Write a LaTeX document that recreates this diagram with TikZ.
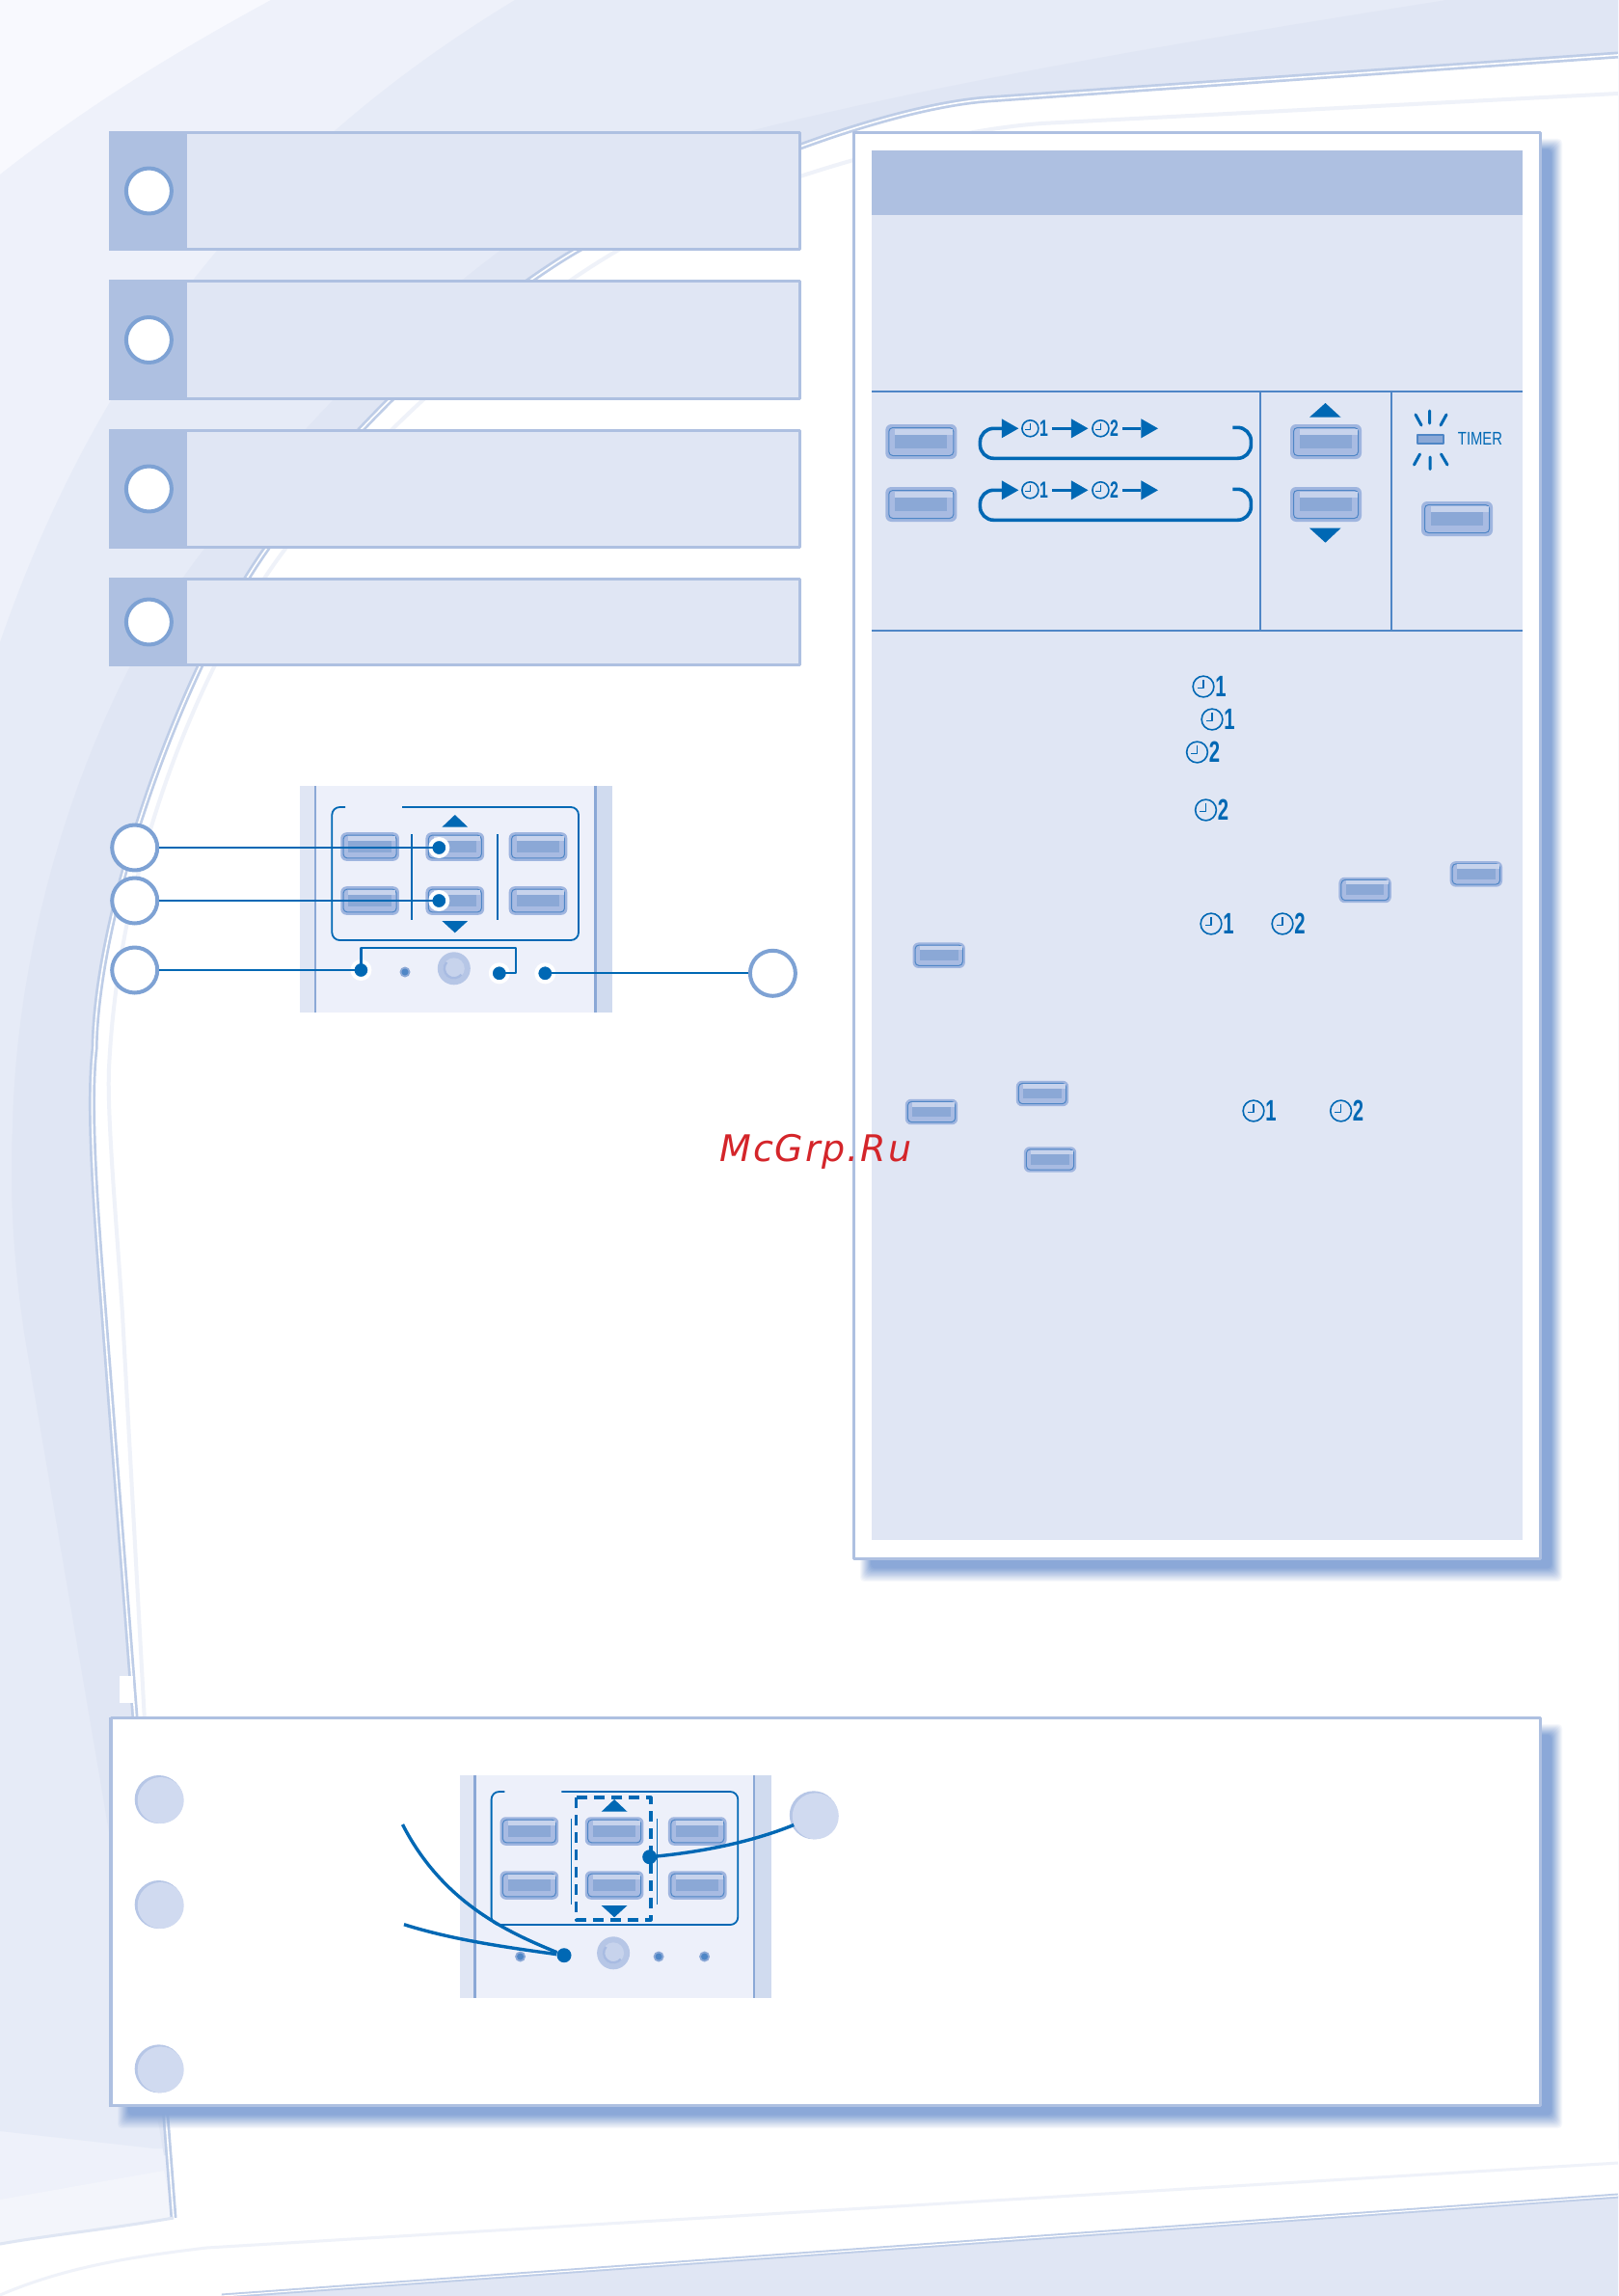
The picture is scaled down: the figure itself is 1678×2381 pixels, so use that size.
\documentclass[tikz,border=0pt]{standalone}
\usepackage{fontspec}
\setsansfont{Liberation Sans}
\newfontfamily\stampfont[LetterSpace=5]{DejaVu Sans}

\definecolor{inkblue}{HTML}{0068B4}
\definecolor{rulerblue}{HTML}{4F86C6}
\definecolor{boxedge}{HTML}{AEC0E1}
\definecolor{boxfill}{HTML}{E0E6F4}
\definecolor{ringblue}{HTML}{7EA2D4}
\definecolor{haloblue}{HTML}{9FB5DF}
\definecolor{midblue}{HTML}{A8BBE2}
\definecolor{lightblue}{HTML}{C7D3EC}
\definecolor{patchblue}{HTML}{8BA8D6}
\definecolor{shadowblue}{HTML}{8BA8D8}
\definecolor{badgefill}{HTML}{D0DAF0}
\definecolor{badgerim}{HTML}{B6C6E6}
\definecolor{faceblue}{HTML}{EDF0FA}
\definecolor{stripblue}{HTML}{D0DBEF}
\definecolor{washA}{HTML}{F8F9FE}
\definecolor{washB}{HTML}{EEF1FA}
\definecolor{washC}{HTML}{E6EBF7}
\definecolor{washD}{HTML}{E0E6F4}
\definecolor{washE}{HTML}{F3F5FB}
\definecolor{paleline}{HTML}{EFF2F9}
\definecolor{stampred}{HTML}{D4252A}

\newcommand{\sheetedge}{(1678,57) -- (1024,103)
    .. controls (930,110) and (760,168) .. (597,260)
    .. controls (475,332) and (330,480) .. (277,568)
    .. controls (190,690) and (100,940) .. (98,1088)
    .. controls (91,1150) and (100,1263) .. (107,1353)
    -- (180,2300)}

\newcommand{\softshadow}[4]{%
    \foreach \k [evaluate=\k as \shadealpha using 1/(12-\k)] in {0,...,11}
        \fill[shadowblue, opacity=\shadealpha, rounded corners=2pt]
            ({#1+8+\k},{#2+8+\k}) rectangle ({#3+21-\k},{#4+22-1.25*\k});
}

\begin{document}
\begin{tikzpicture}[
    x=.5pt,
    y=-.5pt,
    line join=round,
    boxline/.style={
        draw=boxedge,
        line width=1.5pt
    },
    ruler/.style={
        draw=rulerblue,
        line width=1pt
    },
    lead/.style={
        draw=inkblue,
        line width=1.1pt
    },
    bendlead/.style={
        draw=inkblue,
        line width=1.7pt
    },
    callout/.style={
        circle,
        draw=ringblue,
        fill=white,
        line width=2pt,
        minimum size=23.5pt,
        inner sep=0pt
    },
    badge/.style={
        circle,
        fill=badgefill,
        minimum size=24pt,
        inner sep=0pt
    },
    spot/.style={
        circle,
        fill=inkblue,
        draw=white,
        line width=2pt,
        minimum size=9pt,
        inner sep=0pt
    },
    plainspot/.style={
        circle,
        fill=inkblue,
        minimum size=7.5pt,
        inner sep=0pt
    },
    numeral/.style={
        text=inkblue,
        font=\sffamily\bfseries\fontsize{12}{12}\selectfont,
        transform shape,
        xscale=.66,
        inner sep=0pt
    },
    knob/.pic={
        \fill[haloblue, rounded corners=3pt] (-37,-18) rectangle (37,18);
        \filldraw[fill=midblue, draw=rulerblue, line width=.5pt, rounded corners=2pt]
            (-33.5,-14.5) rectangle (33.5,14.5);
        \fill[lightblue] (-27,-13.5) rectangle (32.5,-7.5);
        \fill[patchblue] (-27,-7.5) rectangle (27,7);
    },
    clockmark/.pic={
        \draw[inkblue, line width=.8pt] (0,0) circle (8.5);
        \draw[inkblue, line width=.7pt] (0,-5.5) -- (0,1) -- (-5,1);
        \node[numeral] (-num) at (14,0) {#1};
    },
    flowloop/.pic={
        \draw[inkblue, line width=1.8pt, rounded corners=7pt]
            (262,-1) -- (281,-1) -- (281,31) -- (0,31) -- (0,0) -- (23,0);
        \draw[inkblue, line width=1.2pt] (75,0) -- (95,0);
        \draw[inkblue, line width=1.2pt] (148,0) -- (167,0);
        \foreach \ax in {22.4,94.5,167}
            \fill[inkblue] (\ax,-10) -- ({\ax+17.5},0) -- (\ax,10) -- cycle;
        \pic (-one) at (52,0) {clockmark=1};
        \pic (-two) at (125,0) {clockmark=2};
    },
    remote/.pic={
        \draw[inkblue, line width=.9pt, rounded corners=4pt]
            (46.7,22) -- (33,22) -- (33,160) -- (288.7,160) -- (288.7,22) -- (105.7,22);
        \foreach \kx in {72.3,160.5,246.7}
            \foreach \ky in {63,119}
                \pic[scale=.82] at (\kx,\ky) {knob};
        \foreach \sx in {115.7,204.7}
            \draw[inkblue, line width=.8pt] (\sx,50) -- (\sx,139);
        \fill[inkblue] (160.5,30) -- (173.9,42.7) -- (147.1,42.7) -- cycle;
        \fill[inkblue] (160.5,152.3) -- (173.9,140) -- (147.1,140) -- cycle;
        \fill[badgerim] (159.5,189.3) circle (17);
        \fill[lightblue] (159.5,189.3) circle (11);
        \draw[midblue, line width=1.2pt] ([shift={(40:10)}]159.5,189.3) arc (40:220:10);
        \foreach \ix in {63,108.7,206.5,254} {
            \fill[patchblue] (\ix,193) circle (5.5);
            \fill[rulerblue] (\ix,193) circle (3.5);
        }
    }
]

\useasboundingbox (0,0) rectangle (1678,2381);

% =================================================
% Фон страницы
% =================================================

\fill[washA] (0,0) rectangle (1678,2381);
\fill[washB] (281,0) .. controls (180,55) and (90,110) .. (0,181)
    -- (0,2381) -- (1678,2381) -- (1678,0) -- cycle;
\fill[washC] (534,0) .. controls (320,130) and (120,320) .. (0,666)
    -- (0,2210) -- (160,2228) -- (1678,2228) -- (1678,0) -- cycle;
\fill[washD] (1500,0) .. controls (1250,40) and (1000,80) .. (769,138)
    .. controls (600,170) and (400,330) .. (212,569)
    .. controls (100,712) and (17,950) .. (13,1170)
    .. controls (9,1260) and (18,1339) .. (27,1394)
    -- (170,2235) -- (1678,2235) -- (1678,0) -- cycle;
\fill[washE] (0,2281) -- (170,2251) -- (180,2300) -- (0,2327) -- cycle;

\fill[white] \sheetedge .. controls (110,2312) and (50,2318) .. (0,2327)
    -- (0,2381) -- (1678,2381) -- cycle;
\fill[washD] (230,2381) -- (1678,2277) -- (1678,2381) -- cycle;

% Кромка листа
\draw[boxedge!80, line width=3.5pt] \sheetedge;
\draw[white, line width=.8pt] \sheetedge;
\draw[boxedge!40, line width=1.5pt] (180,2300) .. controls (110,2312) and (50,2318) .. (0,2327);
\draw[boxedge!80, line width=2.5pt] (230,2381) -- (1678,2277);
\draw[white, line width=.6pt] (230,2381) -- (1678,2277);
\draw[paleline, line width=2pt] (1678,97) -- (1080,128)
    .. controls (960,137) and (780,190) .. (640,260)
    .. controls (520,330) and (370,470) .. (296,569)
    .. controls (230,655) and (125,860) .. (113,1108)
    .. controls (111,1160) and (121,1270) .. (127,1363)
    -- (150,1785);
\draw[paleline, line width=1.5pt] (0,2380) .. controls (70,2350) and (140,2340) .. (214,2331)
    -- (1678,2243);
\fill[white] (124,1738) rectangle (138,1766);

% =================================================
% Блоки слева
% =================================================

\foreach \ya/\yb [count=\n] in {136/260, 290/415, 445/569, 599/691} {
    \filldraw[boxline, fill=boxfill] (114.5,\ya+1.5) rectangle (829.5,\yb-1.5);
    \fill[boxedge] (113,\ya) rectangle (194,\yb);
    \node[callout] (step\n) at (154.4,{(\ya+\yb)/2}) {};
}

% =================================================
% Таблица справа
% =================================================

\softshadow{884}{136}{1599}{1618}
\filldraw[boxline, fill=white] (885.5,137.5) rectangle (1597.5,1616.5);
\fill[boxedge] (904,156) rectangle (1579,223);
\fill[boxfill] (904,223) rectangle (1579,1597);

\draw[ruler] (904,405.7) -- (1579,405.7);
\draw[ruler] (904,654) -- (1579,654);
\draw[ruler] (1307,405.7) -- (1307,654);
\draw[ruler] (1443,405.7) -- (1443,654);

% Циклы выбора
\pic at (955.3,458) {knob};
\pic at (955.3,523) {knob};
\pic (flowA) at (1016.4,444.3) {flowloop};
\pic (flowB) at (1016.4,508.3) {flowloop};

% Кнопки со стрелками
\pic at (1375,458) {knob};
\pic at (1375,523) {knob};
\fill[inkblue] (1374.5,418) -- (1390.5,432.7) -- (1358,432.7) -- cycle;
\fill[inkblue] (1374.5,562.7) -- (1390.5,547.7) -- (1358,547.7) -- cycle;

% Индикатор
\filldraw[fill=patchblue, draw=rulerblue, line width=.6pt] (1470,451) rectangle (1497,460);
\draw[inkblue, line width=1.5pt, line cap=round]
    (1468,430) -- (1474,441)
    (1482.5,426) -- (1482.5,439)
    (1500,430) -- (1494,441)
    (1472.5,471) -- (1466.5,482)
    (1483,474) -- (1483,486.5)
    (1494.5,471) -- (1501,482);
\node[text=inkblue, font=\sffamily\fontsize{9.5}{10}\selectfont, transform shape,
    xscale=.78, inner sep=0pt] (timerlabel) at (1535,455) {TIMER};
\pic at (1511,538) {knob};

% Значки таймера в тексте
\foreach \x/\y/\d [count=\n] in {1248/712/1, 1257/746/1, 1241.5/780/2, 1250.5/840/2,
    1256/958/1, 1330/958/2, 1300/1152/1, 1390.6/1152/2}
    \pic[scale=1.28] (clk\n) at (\x,\y) {clockmark=\d};

\foreach \x/\y in {1415.6/923, 1530.8/906.4, 973.7/990.7, 966/1153, 1081/1134, 1089/1202.5}
    \pic[scale=.735] at (\x,\y) {knob};

% =================================================
% Верхний пульт
% =================================================

\fill[boxfill] (311.3,815) rectangle (635,1050);
\fill[faceblue] (326.3,815) rectangle (617.7,1050);
\fill[stripblue] (617.7,815) rectangle (635,1050);
\draw[patchblue, line width=1.2pt] (327,815) -- (327,1050);
\draw[patchblue, line width=1.2pt] (617.5,815) -- (617.5,1050);
\pic at (311.3,815) {remote};

\node[callout] (mark1) at (139.7,879) {};
\node[callout] (mark2) at (139.7,934) {};
\node[callout] (mark3) at (139.7,1006) {};
\node[callout] (mark4) at (801.4,1009.3) {};

\node[spot] (dot1) at (455.3,879) {};
\node[spot] (dot2) at (455.3,934) {};
\node[spot] (dot3) at (374.4,1006) {};
\node[spot] (dot4) at (517.8,1009.3) {};
\node[spot] (dot5) at (565.3,1009.3) {};

\coordinate (bendA) at (534.8,982.7);

\draw[lead] (mark1) -- (dot1.center);
\draw[lead] (mark2) -- (dot2.center);
\draw[lead] (mark3) -- (dot3.center);
\draw[lead] (mark4) -- (dot5.center);
\draw[lead] (dot3.center) |- (bendA) |- (dot4.center);

% =================================================
% Нижняя рамка
% =================================================

\softshadow{114}{1780}{1599}{2185}
\filldraw[boxline, fill=white] (115,1781.5) rectangle (1597.5,2183.5);
\draw[boxedge, line width=1.5pt] (114.5,1781) -- (114.5,2185);

\fill[boxfill] (476.6,1841) rectangle (800,2072);
\fill[faceblue] (491.6,1841) rectangle (783,2072);
\fill[stripblue] (783,1841) rectangle (800,2072);
\draw[patchblue, line width=1.2pt] (492.6,1841) -- (492.6,2072);
\draw[patchblue, line width=1.2pt] (782,1841) -- (782,2072);
\pic at (476.6,1836) {remote};

\draw[inkblue, line width=1.8pt, dash pattern=on 5.5pt off 3.5pt]
    (597.5,1864) rectangle (674.7,1990.7);

\foreach \x/\y [count=\n] in {164.7/1866, 164.7/1975, 164.7/2145.3, 843.8/1882.3} {
    \fill[badgerim] (\x,\y) circle (25);
    \node[badge] (hint\n) at ({\x+2},{\y+1}) {};
}

\node[plainspot] (spotA) at (585,2027.7) {};
\node[plainspot] (spotB) at (673.7,1925.7) {};
\coordinate (startA) at (417.5,1892);
\coordinate (startB) at (419,1995.7);

\draw[bendlead] (startA) .. controls (460,1975) and (530,2005) .. (spotA);
\draw[bendlead] (startB) .. controls (470,2012) and (530,2020) .. (spotA);
\draw[bendlead] (hint4) .. controls (780,1910) and (730,1920) .. (spotB);

% =================================================
% Надпись
% =================================================

\node[anchor=base west, inner sep=0pt, text=stampred,
    font=\stampfont\itshape\fontsize{19}{19}\selectfont] (stamp) at (746,1204) {McGrp.Ru};

\end{tikzpicture}
\end{document}
